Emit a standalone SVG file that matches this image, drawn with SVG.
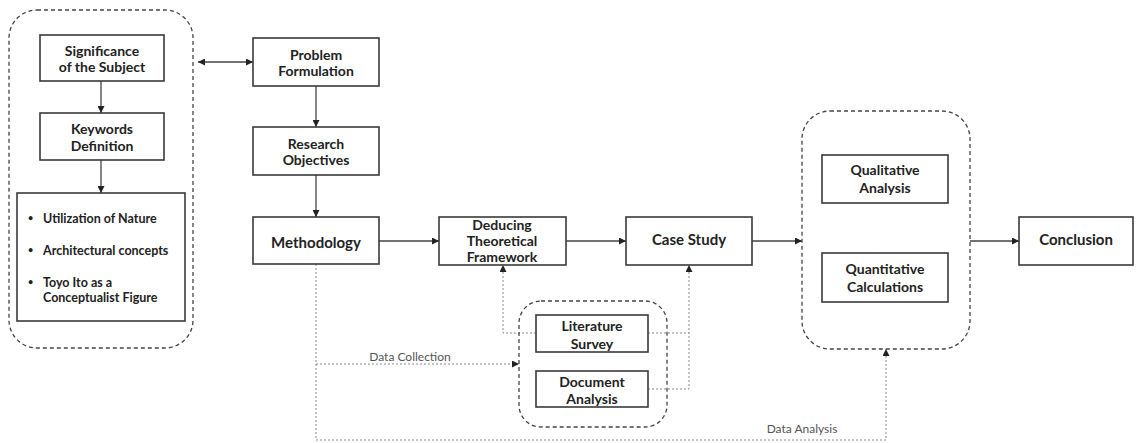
<svg xmlns="http://www.w3.org/2000/svg" width="1137" height="443" viewBox="0 0 1137 443">
<style>
.box{fill:#fff;stroke:#3a3a3a;stroke-width:1.6}
.grp{fill:none;stroke:#444;stroke-width:1.3;stroke-dasharray:4 3}
.t{font-family:Lato,"Liberation Sans",sans-serif;font-weight:bold;font-size:14px;fill:#222;text-anchor:middle;dominant-baseline:central}
.b{font-family:Lato,"Liberation Sans",sans-serif;font-weight:bold;font-size:12.5px;fill:#222;dominant-baseline:central}
.bul{font-family:Lato,"Liberation Sans",sans-serif;font-weight:bold;font-size:9px;fill:#222;dominant-baseline:central}
.lbl{font-family:Lato,"Liberation Sans",sans-serif;font-size:12px;fill:#555;text-anchor:middle;dominant-baseline:central}
.solid{fill:none;stroke:#444;stroke-width:1.3}
.dot{fill:none;stroke:#8a8a8a;stroke-width:1;stroke-dasharray:2 2}
</style>
<defs>
<marker id="ah" viewBox="0 0 10 10" refX="10" refY="5" markerWidth="7" markerHeight="7" orient="auto-start-reverse" markerUnits="userSpaceOnUse">
<path d="M0,0 L10,5 L0,10 z" fill="#222"/>
</marker>
</defs>
<rect width="1137" height="443" fill="#fff"/>

<g id="connectors">
<line class="solid" x1="198" y1="62" x2="253" y2="62" marker-start="url(#ah)" marker-end="url(#ah)"/>
<line class="solid" x1="101" y1="81" x2="101" y2="113" marker-end="url(#ah)"/>
<line class="solid" x1="101" y1="160" x2="101" y2="193" marker-end="url(#ah)"/>
<line class="solid" x1="316" y1="86" x2="316" y2="127" marker-end="url(#ah)"/>
<line class="solid" x1="316" y1="175" x2="316" y2="217" marker-end="url(#ah)"/>
<line class="solid" x1="379" y1="241" x2="439" y2="241" marker-end="url(#ah)"/>
<line class="solid" x1="566" y1="241" x2="626" y2="241" marker-end="url(#ah)"/>
<line class="solid" x1="752" y1="241" x2="802" y2="241" marker-end="url(#ah)"/>
<line class="solid" x1="970" y1="241" x2="1019" y2="241" marker-end="url(#ah)"/>
<polyline class="dot" points="536,333 503,333 503,265" marker-end="url(#ah)"/>
<polyline class="dot" points="648,333 689,333"/>
<polyline class="dot" points="648,389 689,389 689,265" marker-end="url(#ah)"/>
<polyline class="dot" points="316,264 316,364 519,364" marker-end="url(#ah)"/>
<polyline class="dot" points="316,364 316,440 886,440 886,349" marker-end="url(#ah)"/>
<text class="lbl" x="410" y="356">Data Collection</text>
<text class="lbl" x="802" y="428">Data Analysis</text>
</g>

<g id="group-left">
<rect class="grp" x="9" y="10" width="184" height="338" rx="28"/>
</g>
<g id="significance">
<rect class="box" x="40" y="35" width="124" height="46"/>
<text class="t" x="102" y="50">Significance</text>
<text class="t" x="102" y="66">of the Subject</text>
</g>
<g id="keywords">
<rect class="box" x="40" y="113" width="124" height="47"/>
<text class="t" x="102" y="128">Keywords</text>
<text class="t" x="102" y="145">Definition</text>
</g>
<g id="topics">
<rect class="box" x="17" y="193" width="168" height="128"/>
<text class="bul" x="28" y="217">•</text><text class="b" x="43" y="218">Utilization of Nature</text>
<text class="bul" x="28" y="249">•</text><text class="b" x="43" y="250">Architectural concepts</text>
<text class="bul" x="28" y="281">•</text><text class="b" x="43" y="282">Toyo Ito as a</text>
<text class="b" x="43" y="297">Conceptualist Figure</text>
</g>

<g id="problem">
<rect class="box" x="253" y="38" width="126" height="48"/>
<text class="t" x="316" y="54">Problem</text>
<text class="t" x="316" y="70">Formulation</text>
</g>
<g id="objectives">
<rect class="box" x="253" y="127" width="126" height="48"/>
<text class="t" x="316" y="143">Research</text>
<text class="t" x="316" y="159">Objectives</text>
</g>
<g id="methodology">
<rect class="box" x="253" y="217" width="126" height="47"/>
<text class="t" x="316" y="242" style="font-size:15px">Methodology</text>
</g>
<g id="deducing">
<rect class="box" x="439" y="217" width="127" height="48"/>
<text class="t" x="502" y="224">Deducing</text>
<text class="t" x="502" y="240">Theoretical</text>
<text class="t" x="502" y="256">Framework</text>
</g>
<g id="casestudy">
<rect class="box" x="626" y="217" width="126" height="48"/>
<text class="t" x="689" y="239" style="font-size:15px">Case Study</text>
</g>

<g id="group-collection">
<rect class="grp" x="519" y="301" width="148" height="126" rx="22"/>
</g>
<g id="literature">
<rect class="box" x="536" y="315" width="112" height="37"/>
<text class="t" x="592" y="325">Literature</text>
<text class="t" x="592" y="343">Survey</text>
</g>
<g id="document">
<rect class="box" x="536" y="371" width="112" height="36"/>
<text class="t" x="592" y="381">Document</text>
<text class="t" x="592" y="398">Analysis</text>
</g>

<g id="group-analysis">
<rect class="grp" x="802" y="111" width="168" height="238" rx="28"/>
</g>
<g id="qualitative">
<rect class="box" x="822" y="155" width="126" height="48"/>
<text class="t" x="885" y="169">Qualitative</text>
<text class="t" x="885" y="187">Analysis</text>
</g>
<g id="quantitative">
<rect class="box" x="822" y="253" width="126" height="49"/>
<text class="t" x="885" y="268">Quantitative</text>
<text class="t" x="885" y="286">Calculations</text>
</g>
<g id="conclusion">
<rect class="box" x="1019" y="217" width="114" height="48"/>
<text class="t" x="1076" y="239" style="font-size:15px">Conclusion</text>
</g>
</svg>
